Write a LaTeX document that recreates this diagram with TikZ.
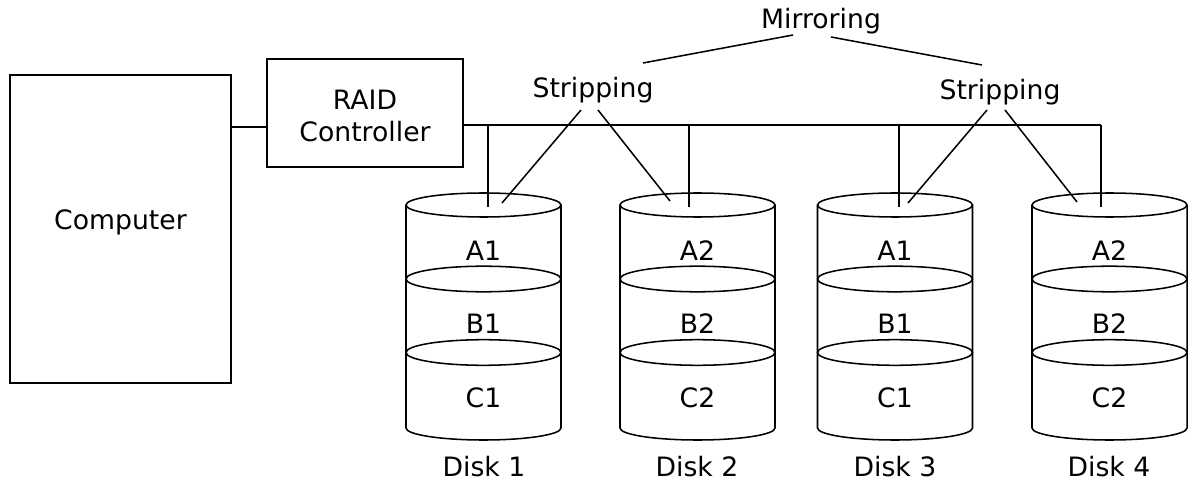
\documentclass[tikz,border=0pt]{standalone}
\usepackage{fontspec}
\setmainfont{DejaVu Sans}
\tikzset{
  ln/.style={line width=1.15pt, black},
  box/.style={draw, line width=1.15pt, inner sep=0pt},
  lbl/.style={font=\fontsize{20}{24.5}\selectfont, inner sep=0pt, align=center},
}
\newcommand\drawdisk[5]{% #1 center x, #2 name, #3 #4 #5 labels
  \begin{scope}[ln]
    \draw (#1,205) ellipse [x radius=58.125pt, y radius=9pt];
    \draw (#1-77.5,205) -- (#1-77.5,428) arc[start angle=180, end angle=360, x radius=58.125pt, y radius=9pt] -- (#1+77.5,205);
    \draw (#1,279) ellipse [x radius=58.125pt, y radius=9.6pt];
    \draw (#1,352.5) ellipse [x radius=58.125pt, y radius=9.6pt];
  \end{scope}
  \node[lbl] (#2a) at (#1,251) {#3};
  \node[lbl] (#2b) at (#1,324) {#4};
  \node[lbl] (#2c) at (#1,398) {#5};
}
\begin{document}
\begin{tikzpicture}[x=0.75pt,y=-0.75pt]
\useasboundingbox (0,0) rectangle (1188,488);
% computer and controller
\node[box, minimum width=221*0.75pt, minimum height=308*0.75pt] (comp) at (120.5,229) {};
\node[lbl] (comptext) at (120.5,222) {Computer};
\node[box, minimum width=196*0.75pt, minimum height=108*0.75pt] (raid) at (365,113) {};
\node[lbl] (raidtext) at (365,116) {RAID\\Controller};
% disks
\drawdisk{483.5}{dA}{A1}{B1}{C1}
\drawdisk{697.5}{dB}{A2}{B2}{C2}
\drawdisk{895}{dC}{A1}{B1}{C1}
\drawdisk{1109.5}{dD}{A2}{B2}{C2}
\node[lbl] (l1) at (484,467) {Disk 1};
\node[lbl] (l2) at (697,467) {Disk 2};
\node[lbl] (l3) at (895,467) {Disk 3};
\node[lbl] (l4) at (1109,467) {Disk 4};
% labels
\node[lbl] (mir) at (821,21) {Mirroring};
\node[lbl] (s1) at (593,90) {Stripping};
\node[lbl] (s2) at (1000,92) {Stripping};
% coordinates
\coordinate (c1) at (231,127);
\coordinate (busL) at (462,125);
\coordinate (busR) at (1101,125);
\coordinate (v1) at (488,207);
\coordinate (v2) at (689,207);
\coordinate (v3) at (899,207);
\coordinate (v4) at (1101,207);
\coordinate (s1a) at (581,110); \coordinate (s1b) at (598,110);
\coordinate (e1) at (502,203); \coordinate (e2) at (670,201);
\coordinate (s2a) at (987,110); \coordinate (s2b) at (1005,110);
\coordinate (e3) at (908,203); \coordinate (e4) at (1077,202);
\coordinate (m1) at (793,35); \coordinate (m2) at (831,37);
\coordinate (t1) at (643,63); \coordinate (t2) at (982,65);
% connectors
\draw[ln] (c1) -- (c1 -| raid.west);
\draw[ln] (busL) -- (busR);
\draw[ln] (v1 |- busL) -- (v1);
\draw[ln] (v2 |- busL) -- (v2);
\draw[ln] (v3 |- busL) -- (v3);
\draw[ln] (v4 |- busL) -- (v4);
\draw[ln] (s1a) -- (e1);
\draw[ln] (s1b) -- (e2);
\draw[ln] (s2a) -- (e3);
\draw[ln] (s2b) -- (e4);
\draw[ln] (m1) -- (t1);
\draw[ln] (m2) -- (t2);
\end{tikzpicture}
\end{document}
